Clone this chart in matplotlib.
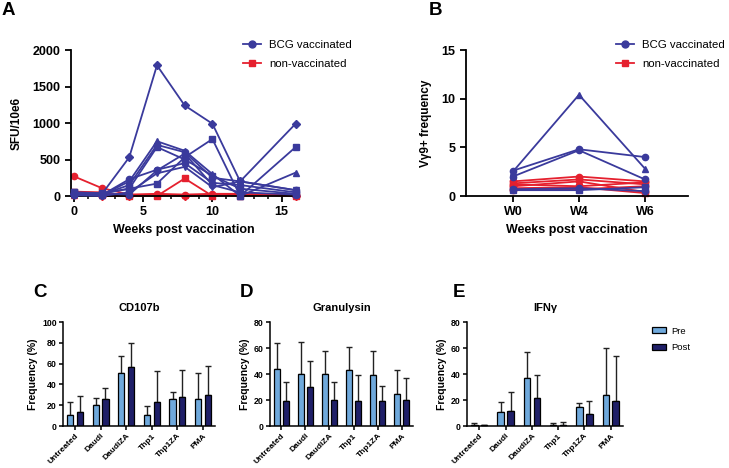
import matplotlib
matplotlib.use("Agg")
import matplotlib.pyplot as plt
from matplotlib.lines import Line2D
from matplotlib.patches import Patch
import numpy as np

plt.rcParams['font.family'] = ['Liberation Sans', 'DejaVu Sans']
plt.rcParams['font.weight'] = 'bold'

BLUE = '#3a3a9c'
RED = '#e5202e'
PRE = '#6fa9dc'
POST = '#1f1f68'

# ---------------- Panel A data ----------------
weeks = [0, 2, 4, 6, 8, 10, 12, 16]
bcg_sfu = [
    ('D', [30, 20, 530, 1790, 1240, 990, 200, 990]),
    ('s', [50, 30, 100, 170, 530, 780, 0, 670]),
    ('^', [30, 10, 200, 750, 620, 300, 0, 320]),
    ('o', [40, 20, 150, 700, 600, 250, 200, 80]),
    ('o', [20, 10, 230, 360, 450, 180, 150, 50]),
    ('v', [10, 0, 50, 310, 400, 120, 200, 80]),
    ('s', [50, 40, 100, 670, 500, 280, 100, 30]),
    ('o', [20, 30, 20, 350, 580, 150, 50, 20]),
]
non_sfu = [
    ('o', [270, 110, 20, 30, 20, 30, 30, 20]),
    ('s', [60, 50, 0, 0, 240, 0, 20, 0]),
    ('^', [10, 20, 10, 20, 10, 20, 0, 30]),
    ('D', [30, 0, 0, 10, 0, 10, 20, 0]),
]

# ---------------- Panel B data ----------------
b_labels = ['W0', 'W4', 'W6']
bcg_vg9 = [
    ('^', [2.5, 10.4, 2.8]),
    ('o', [2.6, 4.8, 4.0]),
    ('o', [2.0, 4.7, 1.7]),
    ('s', [0.6, 0.6, 0.9]),
    ('o', [0.7, 0.8, 0.5]),
]
non_vg9 = [
    ('o', [1.5, 2.0, 1.5]),
    ('s', [1.3, 1.7, 1.2]),
    ('o', [1.0, 1.5, 0.4]),
    ('o', [1.2, 1.0, 1.4]),
    ('s', [0.8, 0.9, 0.3]),
    ('o', [0.6, 0.7, 1.0]),
]

# ---------------- Panels C-E data ----------------
conditions = ['Untreated', 'Daudi', 'DaudiZA', 'Thp1', 'Thp1ZA', 'PMA']
cd107b_pre = [11, 20, 51, 11, 26, 26]
cd107b_pre_err = [12, 7, 16, 8, 7, 25]
cd107b_post = [13, 26, 57, 23, 28, 30]
cd107b_post_err = [16, 11, 23, 30, 26, 28]

gran_pre = [44, 40, 40, 43, 39, 25]
gran_pre_err = [20, 25, 18, 18, 19, 18]
gran_post = [19, 30, 20, 19, 19, 20]
gran_post_err = [15, 20, 14, 20, 12, 17]

ifng_pre = [1, 10.5, 36.7, 1, 14.9, 23.8]
ifng_pre_err = [1, 8.2, 20.3, 1, 3.1, 35.9]
ifng_post = [0.5, 11.3, 21.3, 1, 9.5, 19]
ifng_post_err = [0.3, 15.1, 18.2, 2, 10, 34.8]

W, H = 729, 468
fig = plt.figure(figsize=(W / 100, H / 100), dpi=100)

def ax_px(l, t, r, b):
    return fig.add_axes([l / W, 1 - b / H, (r - l) / W, (b - t) / H])

def style(ax, lw=1.3):
    for s in ['top', 'right']:
        ax.spines[s].set_visible(False)
    for s in ['left', 'bottom']:
        ax.spines[s].set_linewidth(lw)

# Panel A
axA = ax_px(71, 50, 297, 196)
for m, v in bcg_sfu:
    axA.plot(weeks, v, color=BLUE, marker=m, ms=4.5, lw=1.3, clip_on=False, zorder=3)
for m, v in non_sfu:
    axA.plot(weeks, v, color=RED, marker=m, ms=4.5, lw=1.3, clip_on=False, zorder=2)
axA.set_xlim(-0.2, 16.1)
axA.set_ylim(0, 2000)
axA.set_xticks([0, 5, 10, 15])
axA.set_xticks(range(0, 17), minor=True)
axA.set_yticks([0, 500, 1000, 1500, 2000])
style(axA)
axA.tick_params(axis='both', labelsize=9, width=1.3, length=4)
axA.tick_params(axis='x', which='minor', width=1.1, length=2.5)
for lab in axA.get_xticklabels() + axA.get_yticklabels():
    lab.set_fontweight('bold')
axA.set_ylabel('SFU/10e6', fontsize=8.5, fontweight='bold', labelpad=7)
axA.set_xlabel('Weeks post vaccination', fontsize=9, fontweight='bold', labelpad=4)

leg_handles = [Line2D([], [], color=BLUE, marker='o', ms=5, lw=1.3),
               Line2D([], [], color=RED, marker='s', ms=5, lw=1.3)]
leg_kw = dict(loc='upper left', frameon=False,
              prop={'size': 8.2, 'weight': 'normal'}, handlelength=1.6,
              labelspacing=0.75, handletextpad=0.7)
fig.legend(leg_handles, ['BCG vaccinated', 'non-vaccinated'],
           bbox_to_anchor=(233 / W, 1 - 30 / H), **leg_kw)

# Panel B
axB = ax_px(466, 50, 688, 196)
xb = np.arange(len(b_labels))
for m, v in non_vg9:
    axB.plot(xb, v, color=RED, marker=m, ms=4.5, lw=1.3, clip_on=False, zorder=2)
for m, v in bcg_vg9:
    axB.plot(xb, v, color=BLUE, marker=m, ms=4.5, lw=1.3, clip_on=False, zorder=3)
axB.set_xlim(-0.71, 2.65)
axB.set_ylim(0, 15)
axB.set_xticks(xb)
axB.set_xticklabels(b_labels)
axB.set_yticks([0, 5, 10, 15])
style(axB)
axB.tick_params(axis='both', labelsize=9, width=1.3, length=4)
for lab in axB.get_xticklabels() + axB.get_yticklabels():
    lab.set_fontweight('bold')
axB.set_ylabel('V\u03b39+ frequency', fontsize=8.5, fontweight='bold', labelpad=7)
axB.set_xlabel('Weeks post vaccination', fontsize=9, fontweight='bold', labelpad=4)
fig.legend(leg_handles, ['BCG vaccinated', 'non-vaccinated'],
           bbox_to_anchor=(606 / W, 1 - 30 / H), **leg_kw)

# Bar panels
def bar_panel(rect, title, pre, pre_e, post, post_e, ymax):
    ax = ax_px(*rect)
    x = np.arange(len(conditions))
    bw = 0.24
    off = 0.19
    ax.bar(x - off, pre, bw, color=PRE, edgecolor='black', lw=0.9, zorder=2)
    ax.bar(x + off, post, bw, color=POST, edgecolor='black', lw=0.9, zorder=2)
    ax.errorbar(x - off, pre, yerr=[np.zeros(len(pre)), pre_e], fmt='none',
                ecolor='#222222', elinewidth=1.0, capsize=2, capthick=1.0, zorder=1)
    ax.errorbar(x + off, post, yerr=[np.zeros(len(post)), post_e], fmt='none',
                ecolor='#222222', elinewidth=1.0, capsize=2, capthick=1.0, zorder=1)
    ax.set_xlim(-0.47, 5.47)
    ax.set_ylim(0, ymax)
    ax.set_yticks(np.arange(0, ymax + 1, 20))
    ax.set_xticks(x)
    ax.set_xticklabels(conditions, rotation=45, ha='right', rotation_mode='anchor')
    style(ax, 1.1)
    ax.tick_params(axis='y', labelsize=6.3, width=1.1, length=3, pad=1.5)
    ax.tick_params(axis='x', labelsize=6, width=1.1, length=3, pad=1.5)
    for lab in ax.get_xticklabels() + ax.get_yticklabels():
        lab.set_fontweight('bold')
    ax.set_ylabel('Frequency (%)', fontsize=7.5, fontweight='bold', labelpad=3)
    ax.set_title(title, fontsize=8, fontweight='bold', pad=8)
    return ax

bar_panel((63, 322, 215, 426), 'CD107b', cd107b_pre, cd107b_pre_err,
          cd107b_post, cd107b_post_err, 100)
bar_panel((270, 322, 413, 426), 'Granulysin', gran_pre, gran_pre_err,
          gran_post, gran_post_err, 80)
bar_panel((467, 322, 623, 426), 'IFN\u03b3', ifng_pre, ifng_pre_err,
          ifng_post, ifng_post_err, 80)

bar_handles = [Patch(facecolor=PRE, edgecolor='black', lw=0.9),
               Patch(facecolor=POST, edgecolor='black', lw=0.9)]
fig.legend(bar_handles, ['Pre', 'Post'], loc='upper left',
           bbox_to_anchor=(643 / W, 1 - 318 / H), frameon=False,
           prop={'size': 6.8, 'weight': 'normal'}, handlelength=1.5, handleheight=0.6,
           labelspacing=0.8, handletextpad=0.6)

# Panel letters
for letter, (px, py) in {'A': (2, 2), 'B': (429, 2), 'C': (33, 284),
                         'D': (240, 284), 'E': (453, 284)}.items():
    fig.text(px / W, 1 - py / H, letter, fontsize=13.5, fontweight='bold',
             ha='left', va='top')

fig.savefig('out.png', dpi=100)
